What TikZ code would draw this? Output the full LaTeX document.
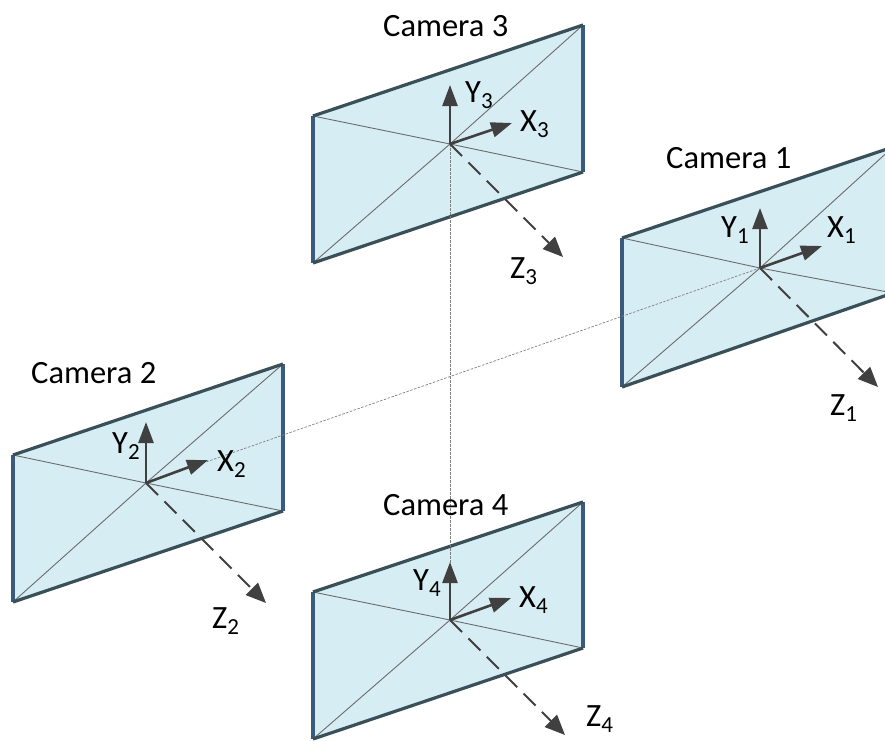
\documentclass[tikz,border=0pt]{standalone}
\usepackage{fontspec}
\setmainfont{Carlito}
\usetikzlibrary{arrows.meta}
\definecolor{panel}{HTML}{D6EDF3}
\definecolor{rimdark}{HTML}{3A5A7E}
\definecolor{rimtop}{HTML}{3A5058}
\definecolor{axisc}{HTML}{404040}
\newcommand{\subs}[1]{\raisebox{-0.2em}{\fontsize{23}{26}\selectfont #1}}
\tikzset{
  x=1pt,y=-1pt,
  lbl/.style={inner sep=0pt,anchor=base west,font=\fontsize{32.5}{36}\selectfont,text=black},
  panelface/.style={fill=panel,draw=none},
  rimh/.style={draw=rimtop,line width=3.2pt},
  rimv/.style={draw=rimdark,line width=3.8pt},
  diag/.style={draw=gray!85!black,line width=0.9pt},
  axisline/.style={draw=axisc,line width=2.6pt,-{Triangle[length=21pt,width=15pt]}},
  zaxis/.style={draw=axisc,line width=2pt,dash pattern=on 17pt off 9pt,-{Triangle[length=20pt,width=17pt,fill=axisc]}},
  link/.style={draw=gray,line width=0.7pt,dash pattern=on 2.5pt off 1.5pt},
}
\begin{document}
\begin{tikzpicture}
\useasboundingbox (0,0) rectangle (885,740);
\clip (0,0) rectangle (885,740);
\newcommand{\campanel}[9]{%
  \coordinate (#1tl) at (#2,#3);
  \coordinate (#1tr) at (#4,#5);
  \coordinate (#1br) at (#4,#6);
  \coordinate (#1bl) at (#2,#7);
  \coordinate (#1c) at (#8,#9);
  \path[panelface] (#1tl) -- (#1tr) -- (#1br) -- (#1bl) -- cycle;
  \draw[diag] (#1tl) -- (#1c) -- (#1br);
  \draw[diag] (#1bl) -- (#1c) -- (#1tr);
  \draw[rimv] (#1tl) -- (#1bl);
  \draw[rimv] (#1tr) -- (#1br);
  \draw[rimh] (#1tl) -- (#1tr);
  \draw[rimh] (#1bl) -- (#1br);
}
\newcommand{\camaxes}[7]{%
  \coordinate (#1y) at (#2,#3);
  \coordinate (#1x) at (#4,#5);
  \coordinate (#1z) at (#6,#7);
  \draw[axisline] (#1c) -- (#1y);
  \draw[axisline] (#1c) -- (#1x);
  \draw[zaxis] (#1c) -- (#1z);
}
\campanel{a}{622}{238}{893}{147}{293}{387}{760}{268}
\campanel{b}{13}{455}{283}{364}{511}{602}{146}{483}
\campanel{c}{313}{116}{583}{25}{172}{263}{450}{144}
\campanel{d}{313}{592}{583}{502}{648}{739}{450}{620}
\draw[link] (bc) -- (ac);
\draw[link] (cc) -- (dc);
\camaxes{a}{760}{208}{822}{246}{878}{387}
\camaxes{b}{146}{422}{208}{460}{266}{603}
\camaxes{c}{450}{85}{512}{123}{563}{257}
\camaxes{d}{450}{562}{511}{598}{565}{735}
\node[lbl] (la) at (666,168) {Camera 1};
\node[lbl] (lb) at (31,383) {Camera 2};
\node[lbl] (lc) at (383,36) {Camera 3};
\node[lbl] (ld) at (383,515) {Camera 4};
\node[lbl] (ya) at (721,237) {Y\subs{1}};
\node[lbl] (xa) at (827,237) {X\subs{1}};
\node[lbl] (za) at (830,415) {Z\subs{1}};
\node[lbl] (yb) at (112,453) {Y\subs{2}};
\node[lbl] (xb) at (217,471) {X\subs{2}};
\node[lbl] (zb) at (212,628) {Z\subs{2}};
\node[lbl] (yc) at (465,102) {Y\subs{3}};
\node[lbl] (xc) at (520,131) {X\subs{3}};
\node[lbl] (zc) at (510,278) {Z\subs{3}};
\node[lbl] (yd) at (413,590) {Y\subs{4}};
\node[lbl] (xd) at (519,607) {X\subs{4}};
\node[lbl] (zd) at (586,726) {Z\subs{4}};
\end{tikzpicture}
\end{document}
